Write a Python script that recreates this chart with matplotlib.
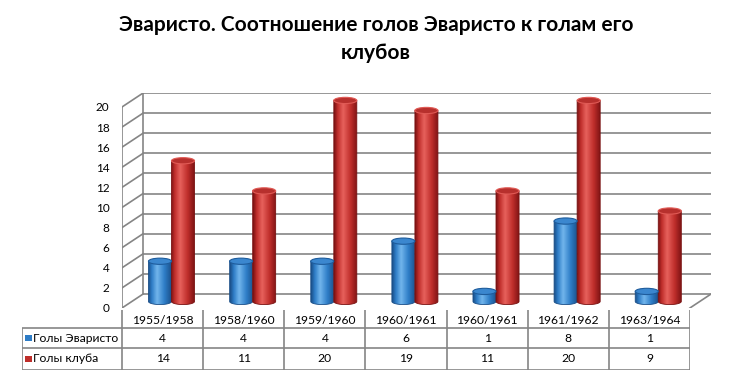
import numpy as np
import matplotlib.pyplot as plt
from matplotlib.patches import Ellipse, PathPatch
from matplotlib.path import Path
from matplotlib.colors import LinearSegmentedColormap

plt.rcParams['font.family'] = ['Lato', 'DejaVu Sans']

# ---------------------------------------------------------------------------
# data
# ---------------------------------------------------------------------------
seasons = ["1955/1958", "1958/1960", "1959/1960", "1960/1961",
           "1960/1961", "1961/1962", "1963/1964"]
evaristo_goals = [4, 4, 4, 6, 1, 8, 1]
club_goals = [14, 11, 20, 19, 11, 20, 9]
series_names = ["Голы Эваристо", "Голы клуба"]
y_ticks = list(range(0, 21, 2))
title = "Эваристо. Соотношение голов Эваристо к голам его\nклубов"

# ---------------------------------------------------------------------------
# layout (pixels of a 730x378 canvas)
# ---------------------------------------------------------------------------
W, H = 730, 378
DX, DY = 0.26, 1.39          # depth offset of the back wall, in data units
BAR_W = 0.284                 # cylinder width (category units)
BASE = 0.65                   # cylinders stand at mid depth
CAP_H = 0.62                  # ellipse height (value units)

def px_rect(l, t, r, b):
    return [l / W, 1 - b / H, (r - l) / W, (b - t) / H]

fig = plt.figure(figsize=(W / 100, H / 100), dpi=100)
fig.patch.set_facecolor("white")
fig.text(376 / W, 1 - 39 / H, title, ha="center", va="center",
         fontsize=15, fontweight="bold", linespacing=1.55)

ax = fig.add_axes(px_rect(122, 93, 711, 308))
n = len(seasons)
grid_kw = dict(color="#858585", lw=1.2, zorder=1)

# back wall gridlines + side wall diagonals
ax.hlines([v + DY for v in y_ticks], DX, n + DX, **grid_kw)
for v in y_ticks:
    ax.plot([0, DX], [v, v + DY], **grid_kw)
ax.vlines(0, 0, y_ticks[-1], **grid_kw)
ax.vlines(DX, DY, y_ticks[-1] + DY, **grid_kw)
ax.plot([n, n + DX], [0, DY], **grid_kw)


def cylinder(xc, value, edge, mid, light, cap, cap_edge):
    x0, x1 = xc - BAR_W / 2, xc + BAR_W / 2
    top = BASE + value
    t = np.linspace(np.pi, 2 * np.pi, 40)
    arc = np.column_stack([xc + BAR_W / 2 * np.cos(t), BASE + CAP_H / 2 * np.sin(t)])
    verts = np.vstack([[[x0, top]], arc, [[x1, top]], [[x0, top]]])
    codes = [Path.MOVETO] + [Path.LINETO] * (len(verts) - 2) + [Path.CLOSEPOLY]
    body = PathPatch(Path(verts, codes), facecolor="none", edgecolor="none")
    ax.add_patch(body)
    cmap = LinearSegmentedColormap.from_list(
        "c", [(0, edge), (0.15, mid), (0.38, light), (0.7, mid), (1, edge)])
    grad = np.linspace(0, 1, 64).reshape(1, -1)
    im = ax.imshow(grad, cmap=cmap, extent=[x0, x1, BASE - CAP_H, top],
                   aspect="auto", zorder=3, interpolation="bilinear")
    im.set_clip_path(body)
    ax.add_patch(PathPatch(Path(verts, codes), facecolor="none",
                           edgecolor=edge, lw=0.6, zorder=3))
    ax.add_patch(Ellipse((xc, top), BAR_W, CAP_H, facecolor=cap,
                         edgecolor=cap_edge, lw=0.8, zorder=4))


for i in range(n):
    pc = i + 0.5 + 0.11
    cylinder(pc - BAR_W / 2, evaristo_goals[i],
             "#1b4f88", "#2d7cc6", "#71b5ec", "#3b87cf", "#1e5c9c")
    cylinder(pc + BAR_W / 2, club_goals[i],
             "#7a1212", "#bf2e2b", "#e7615c", "#b7302d", "#e05a55")

ax.set_xlim(0, n + DX)
ax.set_ylim(0, y_ticks[-1] + DY)
ax.set_yticks(y_ticks)
ax.set_xticks([])
ax.tick_params(axis="y", length=0, pad=9, labelsize=8.5)
for s in ax.spines.values():
    s.set_visible(False)
ax.patch.set_alpha(0)

# ---------------------------------------------------------------------------
# data table
# ---------------------------------------------------------------------------
L = (122 - 22) / 81.1
tb = fig.add_axes(px_rect(22, 310, 690, 370))
tb.set_xlim(-L, n)
tb.set_ylim(60, 0)
tb.axis("off")
line_kw = dict(color="#858585", lw=1.2)
tb.vlines(range(n + 1), 0, 60, **line_kw)
tb.vlines(-L, 18, 60, **line_kw)
tb.hlines([18, 38, 60], -L, n, **line_kw)

row_y = [28, 49]
for i, s in enumerate(seasons):
    tb.text(i + 0.5, 10, s, ha="center", va="center", fontsize=8.7)
    tb.text(i + 0.5, row_y[0], str(evaristo_goals[i]), ha="center", va="center", fontsize=8.7)
    tb.text(i + 0.5, row_y[1], str(club_goals[i]), ha="center", va="center", fontsize=8.7)

for name, y, col in zip(series_names, row_y, ["#2d7cc6", "#bf2e2b"]):
    tb.add_patch(plt.Rectangle((-L + 0.04, y - 3.2), 0.08, 6.4,
                               facecolor=col, edgecolor="none"))
    tb.text(-L + 0.135, y, name, ha="left", va="center", fontsize=8.7)

fig.savefig("out.png", dpi=100)
